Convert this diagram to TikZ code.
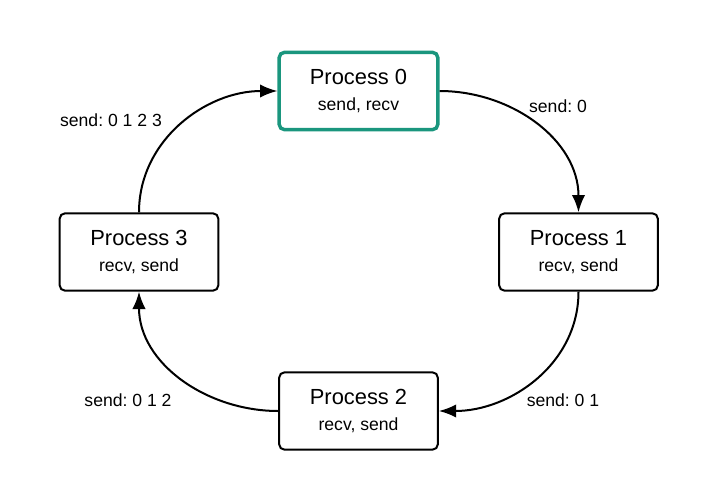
\documentclass[tikz,border=0pt]{standalone}
\usepackage{fontspec}
\setmainfont{Liberation Sans}
\usetikzlibrary{arrows.meta}
\definecolor{tealframe}{RGB}{26,150,126}
\frenchspacing

\begin{document}
\begin{tikzpicture}[x=0.75pt, y=-0.75pt,
	proc/.style={draw, line width=1.5pt, rounded corners=4pt, align=center,
		minimum width=119pt, minimum height=58pt, inner sep=0pt,
		font=\fontsize{16.4}{18}\selectfont},
	ring/.style={line width=1.5pt, -{Latex[length=13pt, width=10pt]}},
	lbl/.style={font=\fontsize{13.2}{15}\selectfont}]
	\useasboundingbox (0,0) rectangle (717,492);
	% the four processes
	\node[proc, draw=tealframe, line width=2.6pt] (p0) at (358.5,91) {Process 0\\[1pt]{\fontsize{13.2}{15}\selectfont send, recv}};
	\node[proc] (p1) at (578.5,252) {Process 1\\[1pt]{\fontsize{13.2}{15}\selectfont recv, send}};
	\node[proc] (p2) at (358.5,411) {Process 2\\[1pt]{\fontsize{13.2}{15}\selectfont recv, send}};
	\node[proc] (p3) at (139,252) {Process 3\\[1pt]{\fontsize{13.2}{15}\selectfont recv, send}};
	% ring of messages
	\draw[ring] (p0.east) to[out=0, in=90] (p1.north);
	\draw[ring] (p1.south) to[out=-90, in=0] (p2.east);
	\draw[ring] (p2.west) to[out=180, in=-90] (p3.south);
	\draw[ring] (p3.north) to[out=90, in=180] (p0.west);
	\node[lbl] (s0) at (558,106) {send: 0};
	\node[lbl] (s1) at (563,400) {send: 0 1};
	\node[lbl] (s2) at (128,400) {send: 0 1 2};
	\node[lbl] (s3) at (111,120) {send: 0 1 2 3};
\end{tikzpicture}
\end{document}
